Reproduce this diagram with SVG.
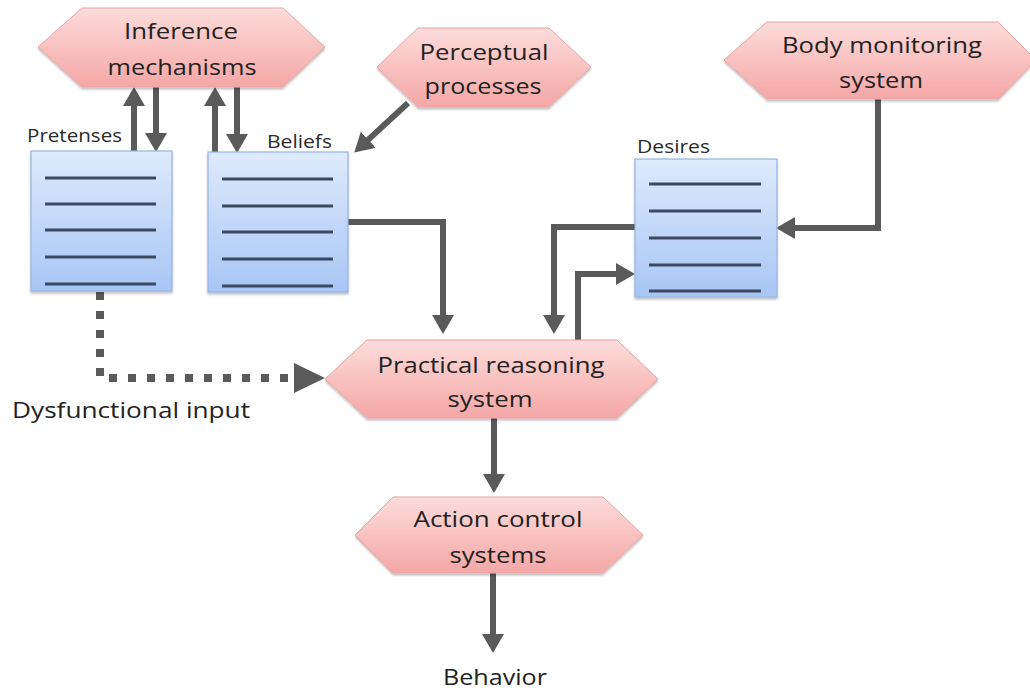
<svg xmlns="http://www.w3.org/2000/svg" width="1030" height="691" viewBox="0 0 1030 691">
  <defs>
    <linearGradient id="hexFill" x1="0" y1="0" x2="0" y2="1">
      <stop offset="0" stop-color="#fcdcdb"/>
      <stop offset="1" stop-color="#f4a7a6"/>
    </linearGradient>
    <linearGradient id="boxFill" x1="0" y1="0" x2="0" y2="1">
      <stop offset="0" stop-color="#dfeafc"/>
      <stop offset="1" stop-color="#a7c6f5"/>
    </linearGradient>
    <filter id="shadow" x="-10%" y="-10%" width="120%" height="130%">
      <feDropShadow dx="0" dy="2" stdDeviation="1.2" flood-color="#000" flood-opacity="0.25"/>
    </filter>
    <marker id="head" markerUnits="userSpaceOnUse" markerWidth="20" markerHeight="22" viewBox="0 0 20 22" refX="1" refY="11" orient="auto">
      <path d="M0,0 L19,11 L0,22 z" fill="#5a5a5a"/>
    </marker>
    <marker id="headBig" markerUnits="userSpaceOnUse" markerWidth="32" markerHeight="30" viewBox="0 0 32 30" refX="1" refY="15" orient="auto">
      <path d="M0,0 L31,15 L0,30 z" fill="#5a5a5a"/>
    </marker>
    <style>
      .hex { fill: url(#hexFill); stroke: #eaa3a2; stroke-width: 1; filter: url(#shadow); }
      .box { fill: url(#boxFill); stroke: #94b3e2; stroke-width: 1.2; filter: url(#shadow); }
      .rule { stroke: #3a4960; stroke-width: 3; }
      .lbl { font-family: "Open Sans", "Liberation Sans", sans-serif; font-size: 21px; fill: #222; text-anchor: middle; }
      .cap { font-family: "Open Sans", "Liberation Sans", sans-serif; font-size: 18px; fill: #2a2a2a; }
      .free { font-family: "Open Sans", "Liberation Sans", sans-serif; font-size: 21px; fill: #222; }
      .wire { fill: none; stroke: #5a5a5a; stroke-width: 6; stroke-linejoin: miter; }
      .arrow { marker-end: url(#head); }
      .dotted { fill: none; stroke: #5a5a5a; stroke-width: 8; stroke-dasharray: 8 11; marker-end: url(#headBig); }
    </style>
  </defs>

  <!-- connectors -->
  <g id="connectors">
    <path class="wire arrow" d="M134,151 V105"/>
    <path class="wire arrow" d="M156,87 V134"/>
    <path class="wire arrow" d="M215,152 V105"/>
    <path class="wire arrow" d="M237,87 V135"/>
    <path class="wire arrow" d="M408,103 L367.5,140.4"/>
    <path class="wire arrow" d="M878,99 V228 H794"/>
    <path class="wire arrow" d="M348,222 H443 V316"/>
    <path class="wire arrow" d="M635,227 H554 V316"/>
    <path class="wire arrow" d="M578,340 V274 H617"/>
    <path class="wire arrow" d="M494,418 V475"/>
    <path class="wire arrow" d="M493,573 V635"/>
    <path class="dotted" d="M100,292 V378 H295"/>
  </g>

  <!-- Inference mechanisms -->
  <g id="inference">
    <polygon class="hex" points="38,47 82,8 283,8 325,47 283,87 82,87"/>
    <text class="lbl" x="181" y="39" textLength="114" lengthAdjust="spacingAndGlyphs">Inference</text>
    <text class="lbl" x="182" y="75" textLength="149" lengthAdjust="spacingAndGlyphs">mechanisms</text>
  </g>

  <!-- Perceptual processes -->
  <g id="perceptual">
    <polygon class="hex" points="377,67 418,28 549,28 591,67 549,107 418,107"/>
    <text class="lbl" x="484" y="60" textLength="129" lengthAdjust="spacingAndGlyphs">Perceptual</text>
    <text class="lbl" x="483" y="94" textLength="117" lengthAdjust="spacingAndGlyphs">processes</text>
  </g>

  <!-- Body monitoring system -->
  <g id="body-monitoring">
    <polygon class="hex" points="724,60 767,22 998,22 1036,60 998,99 767,99"/>
    <text class="lbl" x="882" y="53" textLength="200" lengthAdjust="spacingAndGlyphs">Body monitoring</text>
    <text class="lbl" x="881" y="88" textLength="84" lengthAdjust="spacingAndGlyphs">system</text>
  </g>

  <!-- Pretenses store -->
  <g id="pretenses">
    <text class="cap" x="27" y="142" textLength="95" lengthAdjust="spacingAndGlyphs">Pretenses</text>
    <rect class="box" x="31" y="151" width="141" height="140"/>
    <line class="rule" x1="45" y1="178" x2="156" y2="178"/>
    <line class="rule" x1="45" y1="204" x2="156" y2="204"/>
    <line class="rule" x1="45" y1="230" x2="156" y2="230"/>
    <line class="rule" x1="45" y1="257" x2="156" y2="257"/>
    <line class="rule" x1="45" y1="284" x2="156" y2="284"/>
  </g>

  <!-- Beliefs store -->
  <g id="beliefs">
    <text class="cap" x="267" y="148" textLength="65" lengthAdjust="spacingAndGlyphs">Beliefs</text>
    <rect class="box" x="208" y="152" width="140" height="140"/>
    <line class="rule" x1="222" y1="179" x2="333" y2="179"/>
    <line class="rule" x1="222" y1="206" x2="333" y2="206"/>
    <line class="rule" x1="222" y1="232" x2="333" y2="232"/>
    <line class="rule" x1="222" y1="259" x2="333" y2="259"/>
    <line class="rule" x1="222" y1="286" x2="333" y2="286"/>
  </g>

  <!-- Desires store -->
  <g id="desires">
    <text class="cap" x="637" y="153" textLength="73" lengthAdjust="spacingAndGlyphs">Desires</text>
    <rect class="box" x="635" y="159" width="142" height="138"/>
    <line class="rule" x1="649" y1="184" x2="761" y2="184"/>
    <line class="rule" x1="649" y1="211" x2="761" y2="211"/>
    <line class="rule" x1="649" y1="238" x2="761" y2="238"/>
    <line class="rule" x1="649" y1="265" x2="761" y2="265"/>
    <line class="rule" x1="649" y1="291" x2="761" y2="291"/>
  </g>

  <!-- Practical reasoning system -->
  <g id="practical-reasoning">
    <polygon class="hex" points="325,379 367,340 617,340 658,379 617,418 367,418"/>
    <text class="lbl" x="491" y="373" textLength="227" lengthAdjust="spacingAndGlyphs">Practical reasoning</text>
    <text class="lbl" x="490" y="407" textLength="85" lengthAdjust="spacingAndGlyphs">system</text>
  </g>

  <!-- Action control systems -->
  <g id="action-control">
    <polygon class="hex" points="355,535 393,497 603,497 643,535 603,573 393,573"/>
    <text class="lbl" x="498" y="527" textLength="169" lengthAdjust="spacingAndGlyphs">Action control</text>
    <text class="lbl" x="498" y="563" textLength="97" lengthAdjust="spacingAndGlyphs">systems</text>
  </g>

  <!-- free-standing labels -->
  <g id="dysfunctional-input">
    <text class="free" x="12" y="418" textLength="238" lengthAdjust="spacingAndGlyphs">Dysfunctional input</text>
  </g>
  <g id="behavior">
    <text class="lbl" x="495" y="685" textLength="104" lengthAdjust="spacingAndGlyphs">Behavior</text>
  </g>
</svg>
